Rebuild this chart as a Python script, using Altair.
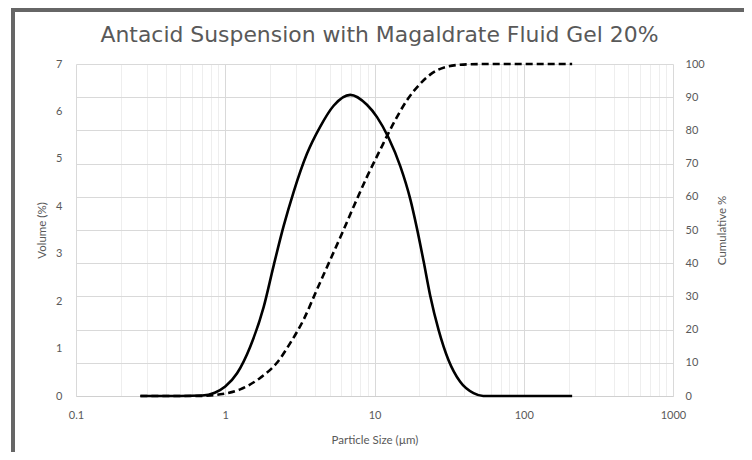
import altair as alt
import pandas as pd

# Volume distribution (solid line)
size_vol = [0.27, 0.5, 0.7, 0.85, 1.0, 1.2, 1.47, 1.81, 2.11, 2.46, 2.87, 3.52, 4.33,
            5.32, 6.88, 8.9, 10.4, 12.4, 14.9, 17.4, 19.2, 21.3, 23.6, 26.9, 31.3,
            37.5, 46.1, 53.5, 100, 211]
volume = [0, 0, 0.01, 0.07, 0.2, 0.48, 1.04, 1.88, 2.75, 3.58, 4.3, 5.1, 5.68,
          6.12, 6.35, 6.14, 5.88, 5.45, 4.84, 4.14, 3.55, 2.85, 2.12, 1.39, 0.76,
          0.30, 0.06, 0, 0, 0]

# Cumulative distribution (dashed line)
size_cum = [0.27, 0.6, 0.8, 0.926, 1.26, 1.72, 2.22, 2.73, 3.35, 4.11, 5.05, 6.2,
            7.24, 8.9, 10.9, 13.4, 16.5, 20.3, 23.6, 30.6, 41.5, 60, 211]
cumulative = [0, 0, 0.15, 0.5, 2.0, 5.5, 10.0, 16.0, 23.0, 32.0, 41.0, 50.0,
              57.0, 66.0, 74.1, 82.1, 89.1, 94.1, 96.8, 99.2, 99.9, 100, 100]

x_ticks = [0.1, 0.2, 0.3, 0.4, 0.5, 0.6, 0.7, 0.8, 0.9,
           1, 2, 3, 4, 5, 6, 7, 8, 9,
           10, 20, 30, 40, 50, 60, 70, 80, 90,
           100, 200, 300, 400, 500, 600, 700, 800, 900, 1000]
left_ticks = [0, 1, 2, 3, 4, 5, 6, 7]
right_ticks = [0, 10, 20, 30, 40, 50, 60, 70, 80, 90, 100]

vol_df = pd.DataFrame({"size": size_vol, "volume": volume})
cum_df = pd.DataFrame({"size": size_cum, "cum": cumulative})

grey = "#595959"
afont = "Lato"
is_decade = "abs(log(datum.value)/LN10 - round(log(datum.value)/LN10)) < 0.001"

x_enc = alt.X(
    "size:Q",
    scale=alt.Scale(type="log", domain=[0.1, 1000]),
    axis=alt.Axis(
        values=x_ticks,
        title="Particle Size (µm)",
        labelExpr=is_decade + " ? format(datum.value, '~g') : ''",
        labelFlush=False,
        labelOverlap=False,
        grid=True,
        gridColor={"condition": {"test": is_decade, "value": "#d9d9d9"}, "value": "#eeeeee"},
        ticks=False,
        domainColor="#d0d0d0",
        labelPadding=13,
        titlePadding=14,
    ),
)

frame = alt.Chart(pd.DataFrame({"a": [0]})).mark_rect(
    fillOpacity=0, stroke="#666666", strokeWidth=4
).encode(
    x=alt.value(-63), x2=alt.value(672), y=alt.value(-54), y2=alt.value(420)
)

vol = alt.Chart(vol_df).mark_line(
    color="black", strokeWidth=2.6, interpolate="monotone"
).encode(
    x=x_enc,
    y=alt.Y(
        "volume:Q",
        scale=alt.Scale(domain=[0, 7], nice=False),
        axis=alt.Axis(values=left_ticks, title="Volume (%)", grid=False, ticks=False,
                      domain=False, labelPadding=14, titlePadding=8),
    ),
)

cum = alt.Chart(cum_df).mark_line(
    color="black", strokeWidth=2.6, strokeDash=[7, 4], interpolate="monotone"
).encode(
    x=x_enc,
    y=alt.Y(
        "cum:Q",
        scale=alt.Scale(domain=[0, 100], nice=False),
        axis=alt.Axis(orient="right", values=right_ticks, title="Cumulative %", grid=True,
                      gridColor="#d9d9d9", ticks=False, domain=False,
                      labelPadding=12, titlePadding=23, titleAngle=270),
    ),
)

chart = alt.layer(frame, vol, cum).resolve_scale(y="independent").properties(
    width=597,
    height=332,
    autosize=alt.AutoSizeParams(type="none"),
    padding={"left": 68, "top": 56, "right": 71, "bottom": 56},
    background="white",
    title=alt.TitleParams(
        "Antacid Suspension with Magaldrate Fluid Gel 20%",
        font="DejaVu Sans", fontSize=21.9, fontWeight="normal", color=grey,
        anchor="middle", offset=-39, dx=5,
    ),
).configure_view(strokeWidth=0).configure_axis(
    labelFont=afont, labelFontSize=11, labelColor=grey,
    titleFont=afont, titleFontSize=11.5, titleColor=grey, titleFontWeight="normal",
)

chart.save("out.html", embed_options={"renderer": "svg", "actions": False})
